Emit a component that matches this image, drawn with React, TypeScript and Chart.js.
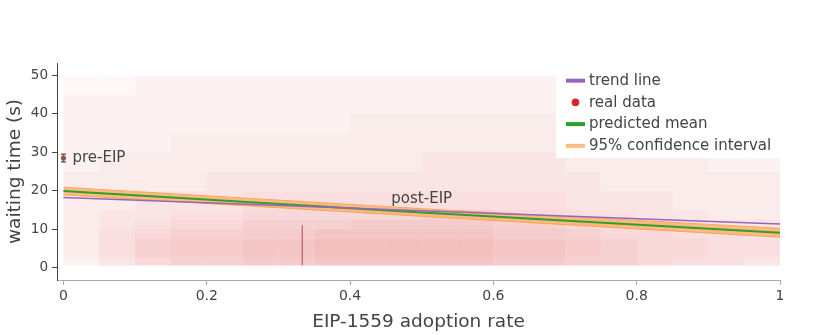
import React, { useEffect, useRef } from 'react';
import { Chart, registerables } from 'chart.js';

Chart.register(...registerables);

const FONT = "'DejaVu Sans', Verdana, sans-serif";
const TEXT = '#444';

const X_TICKS = [0, 0.2, 0.4, 0.6, 0.8, 1];
const Y_TICKS = [0, 10, 20, 30, 40, 50];

// trend line (purple)
const TREND_X = [0, 1];
const TREND_Y = [18.2, 11.3];

// predicted mean (green) and 95% confidence interval (orange)
const MEAN_X = [0, 0.5, 1];
const MEAN_Y = [19.9, 14.3, 9.0];
const CI_UPPER = [20.9, 15.3, 10.2];
const CI_LOWER = [18.9, 13.3, 7.85];

// pre-EIP mean with error bar
const PRE_X = 0;
const PRE_Y = 28.5;
const PRE_ERR = 1.0;

// real data: binned density of the scatter (relative 0..10)
const X_EDGES = [0, 0.05, 0.1, 0.15, 0.2, 0.25, 0.3, 0.35, 0.4, 0.45, 0.5, 0.55, 0.6, 0.65, 0.7, 0.75, 0.8, 0.85, 0.9, 0.95, 1];
const Y_EDGES = [0.5, 2.5, 5, 7.5, 10, 12.5, 15, 20, 25, 30, 35, 40, 45, 50];
const DENSITY = [
  [2, 4, 6, 7, 7, 8, 8, 9, 9, 9, 9, 9, 8, 8, 7, 7, 6, 5, 5, 4],
  [3, 5, 7, 8, 8, 9, 9, 10, 10, 10, 10, 10, 9, 9, 8, 7, 6, 6, 5, 5],
  [3, 5, 7, 8, 8, 9, 9, 10, 10, 10, 10, 10, 9, 9, 8, 7, 6, 6, 5, 5],
  [3, 5, 6, 7, 7, 8, 8, 9, 9, 9, 9, 9, 8, 8, 7, 6, 6, 5, 5, 4],
  [3, 4, 5, 6, 6, 7, 7, 7, 8, 8, 8, 8, 7, 7, 6, 5, 5, 4, 4, 4],
  [3, 4, 4, 5, 5, 6, 6, 6, 6, 6, 7, 7, 6, 6, 5, 5, 4, 4, 3, 3],
  [3, 3, 4, 4, 4, 5, 5, 5, 5, 5, 5, 5, 5, 5, 4, 4, 4, 3, 3, 3],
  [3, 3, 3, 3, 4, 4, 4, 4, 4, 4, 4, 4, 4, 4, 4, 3, 3, 3, 3, 3],
  [2, 3, 3, 3, 3, 3, 3, 3, 3, 3, 4, 4, 4, 4, 3, 3, 3, 3, 2, 2],
  [2, 2, 2, 3, 3, 3, 3, 3, 3, 3, 3, 3, 3, 3, 3, 3, 2, 2, 2, 2],
  [2, 2, 2, 2, 2, 2, 2, 2, 3, 3, 3, 3, 3, 3, 2, 2, 2, 2, 2, 2],
  [2, 2, 2, 2, 2, 2, 2, 2, 2, 2, 2, 2, 2, 2, 2, 2, 2, 2, 2, 2],
  [1, 1, 2, 2, 2, 2, 2, 2, 2, 2, 2, 2, 2, 2, 2, 2, 2, 2, 1, 1],
];
// dense column of points at one third adoption
const STREAK_X = 0.3333;
const STREAK_Y = [0.5, 11];

const LEGEND_ITEMS = [
  { label: 'trend line', kind: 'line', color: '#9467bd' },
  { label: 'real data', kind: 'dot', color: '#d62728' },
  { label: 'predicted mean', kind: 'line', color: '#2ca02c' },
  { label: '95% confidence interval', kind: 'line', color: '#ffbb78' },
];

const legendPlugin = {
  id: 'customLegend',
  afterDraw(chart: any) {
    const ctx = chart.ctx;
    const area = chart.chartArea;
    const x0 = area.right - 214;
    const y0 = area.top + 17.7;
    const gap = 21.7;
    ctx.save();
    ctx.fillStyle = '#fff';
    ctx.fillRect(x0 - 10, area.top - 1, 240, 96);
    ctx.font = `15px ${FONT}`;
    ctx.textBaseline = 'middle';
    ctx.textAlign = 'left';
    LEGEND_ITEMS.forEach((it, i) => {
      const y = y0 + i * gap;
      if (it.kind === 'line') {
        ctx.strokeStyle = it.color;
        ctx.lineWidth = 4;
        ctx.beginPath();
        ctx.moveTo(x0, y);
        ctx.lineTo(x0 + 19, y);
        ctx.stroke();
      } else {
        ctx.fillStyle = it.color;
        ctx.beginPath();
        ctx.arc(x0 + 9.5, y, 3.8, 0, Math.PI * 2);
        ctx.fill();
      }
      ctx.fillStyle = TEXT;
      ctx.fillText(it.label, x0 + 23, y + 0.5);
    });
    ctx.restore();
  },
};

const annotationPlugin = {
  id: 'annotations',
  afterDatasetsDraw(chart: any) {
    const ctx = chart.ctx;
    const xs = chart.scales.x;
    const ys = chart.scales.y;
    ctx.save();
    ctx.font = `15px ${FONT}`;
    ctx.fillStyle = TEXT;
    ctx.textBaseline = 'middle';
    ctx.textAlign = 'left';
    ctx.fillText('pre-EIP', xs.getPixelForValue(PRE_X) + 9, ys.getPixelForValue(PRE_Y));
    ctx.textAlign = 'center';
    ctx.fillText('post-EIP', xs.getPixelForValue(0.5), ys.getPixelForValue(17.85));
    ctx.restore();
  },
};

export default function App() {
  const ref = useRef<HTMLCanvasElement>(null);

  useEffect(() => {
    document.body.style.margin = '0';
    const canvas = ref.current;
    if (!canvas) return;

    const heatSets = DENSITY.map((row, r) => ({
      type: 'bar' as const,
      label: 'real data',
      data: row.map((_, i) => ({
        x: (X_EDGES[i] + X_EDGES[i + 1]) / 2,
        y: [Y_EDGES[r], Y_EDGES[r + 1]],
      })),
      backgroundColor: row.map((v) => `rgba(214,39,40,${(v * 0.03).toFixed(3)})`),
      borderWidth: 0,
      inflateAmount: 0,
      grouped: false,
      barPercentage: 1,
      categoryPercentage: 1,
      order: 10,
    }));

    const chart = new Chart(canvas, {
      type: 'scatter',
      data: {
        datasets: [
          ...heatSets,
          {
            type: 'line',
            label: 'real data column',
            data: STREAK_Y.map((y) => ({ x: STREAK_X, y })),
            borderColor: 'rgba(150,20,35,0.6)',
            borderWidth: 1.2,
            pointRadius: 0,
            order: 9,
          },
          {
            type: 'line',
            label: 'ci upper',
            data: MEAN_X.map((x, i) => ({ x, y: CI_UPPER[i] })),
            borderColor: 'rgba(250,160,85,0.95)',
            borderWidth: 1,
            pointRadius: 0,
            fill: false,
            order: 4,
          },
          {
            type: 'line',
            label: '95% confidence interval',
            data: MEAN_X.map((x, i) => ({ x, y: CI_LOWER[i] })),
            borderColor: 'rgba(250,160,85,0.95)',
            borderWidth: 1,
            pointRadius: 0,
            fill: '-1',
            backgroundColor: 'rgba(253,175,105,0.8)',
            order: 3,
          },
          {
            type: 'line',
            label: 'predicted mean',
            data: MEAN_X.map((x, i) => ({ x, y: MEAN_Y[i] })),
            borderColor: '#2ca02c',
            borderWidth: 2,
            pointRadius: 0,
            order: 2,
          },
          {
            type: 'line',
            label: 'trend line',
            data: TREND_X.map((x, i) => ({ x, y: TREND_Y[i] })),
            borderColor: '#9467bd',
            borderWidth: 1.6,
            pointRadius: 0,
            order: 1,
          },
          {
            type: 'line',
            label: 'pre-EIP error',
            data: [
              { x: PRE_X, y: PRE_Y - PRE_ERR },
              { x: PRE_X, y: PRE_Y + PRE_ERR },
            ],
            borderColor: '#8c564b',
            borderWidth: 1.5,
            pointStyle: 'line',
            pointRadius: 2.5,
            pointBorderColor: '#8c564b',
            pointBorderWidth: 1.5,
            order: 0,
          },
          {
            type: 'scatter',
            label: 'pre-EIP',
            data: [{ x: PRE_X, y: PRE_Y }],
            backgroundColor: '#8c564b',
            borderColor: '#8c564b',
            pointRadius: 2.2,
            order: 0,
          },
        ] as any,
      },
      options: {
        animation: false,
        responsive: false,
        events: [],
        layout: { padding: { left: 0, top: 63, right: 50, bottom: 0 } },
        plugins: {
          legend: { display: false },
          tooltip: { enabled: false },
        },
        scales: {
          x: {
            type: 'linear',
            min: -0.009,
            max: 1.0,
            offset: false,
            afterBuildTicks: (s: any) => {
              s.ticks = X_TICKS.map((v) => ({ value: v }));
            },
            afterFit: (s: any) => {
              s.height = 55;
            },
            ticks: {
              color: TEXT,
              font: { family: FONT, size: 14 },
              padding: 3,
              maxRotation: 0,
              autoSkip: false,
              callback: (v: any) => String(v),
            },
            grid: {
              display: true,
              offset: false,
              drawOnChartArea: false,
              drawTicks: true,
              tickLength: 5,
              color: '#aaa',
            },
            border: { display: true, color: '#aaa', width: 1 },
            title: {
              display: true,
              text: 'EIP-1559 adoption rate',
              color: TEXT,
              font: { family: FONT, size: 18.5 },
              padding: { top: 0, bottom: 2 },
            },
          },
          y: {
            type: 'linear',
            min: -3.3,
            max: 53.3,
            afterBuildTicks: (s: any) => {
              s.ticks = Y_TICKS.map((v) => ({ value: v }));
            },
            afterFit: (s: any) => {
              s.width = 57;
            },
            ticks: {
              color: TEXT,
              font: { family: FONT, size: 13.5 },
              padding: 4,
              callback: (v: any) => String(v),
            },
            grid: {
              display: true,
              drawOnChartArea: false,
              drawTicks: true,
              tickLength: 5,
              color: '#444',
            },
            border: { display: true, color: '#444', width: 1 },
            title: {
              display: true,
              text: 'waiting time (s)',
              color: TEXT,
              font: { family: FONT, size: 18.5 },
              padding: { top: 4, bottom: 0 },
            },
          },
        },
      } as any,
      plugins: [annotationPlugin, legendPlugin],
    });

    return () => chart.destroy();
  }, []);

  return (
    <div style={{ width: 830, height: 335 }}>
      <canvas ref={ref} width={830} height={335} style={{ display: 'block' }} />
    </div>
  );
}
